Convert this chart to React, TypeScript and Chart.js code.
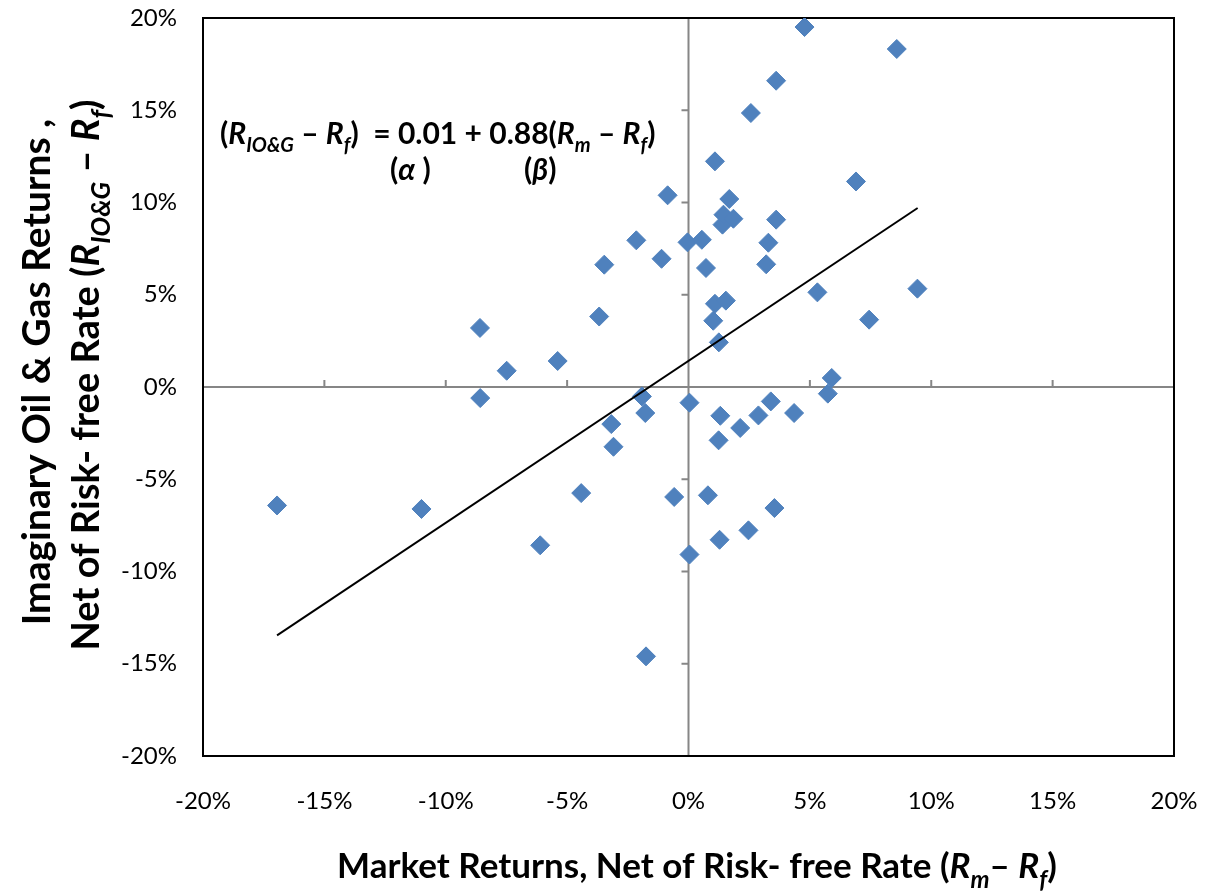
import React, { useEffect, useRef } from "react";
import { Chart, registerables } from "chart.js";

Chart.register(...registerables);

// Market excess returns (%), x values
const marketX: number[] = [
  -16.95, -11.0, -8.59, -8.58, -7.49, -5.39, -6.11, -4.42, -3.68, -3.47,
  -3.18, -3.09, -2.15, -1.92, -1.78, -1.75, -1.11, -0.86, -0.59, -0.04,
  0.55, 0.04, 0.04, 0.72, 0.8, 1.02, 1.09, 1.09, 1.25, 1.31,
  1.24, 1.28, 1.54, 1.4, 1.44, 1.85, 1.68, 2.13, 2.47, 2.57,
  2.88, 3.2, 3.29, 3.39, 3.54, 3.61, 3.61, 4.35, 4.78, 5.31,
  5.74, 5.9, 6.9, 7.44, 8.58, 9.43,
];
// Imaginary Oil & Gas excess returns (%), y values
const iogY: number[] = [
  -6.42, -6.61, 3.2, -0.6, 0.88, 1.41, -8.58, -5.75, 3.82, 6.63,
  -2.01, -3.24, 7.95, -0.51, -1.41, -14.6, 6.95, 10.39, -5.96, 7.84,
  7.98, -0.85, -9.08, 6.45, -5.87, 3.59, 4.51, 12.23, 2.42, -1.56,
  -2.89, -8.28, 4.68, 8.8, 9.34, 9.12, 10.19, -2.22, -7.77, 14.85,
  -1.54, 6.65, 7.82, -0.78, -6.56, 9.07, 16.6, -1.41, 19.51, 5.13,
  -0.36, 0.49, 11.14, 3.65, 18.32, 5.33,
];
// Regression line end points (%)
const trendX: number[] = [-16.95, 9.44];
const trendY: number[] = [-13.46, 9.7];

const axisMin = -20;
const axisMax = 20;
const axisStep = 5;

const FONT = "Lato, 'Liberation Sans', sans-serif";

type Seg = { t: string; i?: boolean; s?: boolean };

function drawRich(
  ctx: CanvasRenderingContext2D,
  segs: Seg[],
  x: number,
  y: number,
  size: number,
  align: "left" | "center"
) {
  const fontFor = (sg: Seg) =>
    `${sg.i ? "italic " : ""}bold ${sg.s ? Math.round(size * 0.68) : size}px ${FONT}`;
  let total = 0;
  const widths: number[] = [];
  for (const sg of segs) {
    ctx.font = fontFor(sg);
    const w = ctx.measureText(sg.t).width;
    widths.push(w);
    total += w;
  }
  let cx = align === "center" ? x - total / 2 : x;
  ctx.textAlign = "left";
  ctx.textBaseline = "alphabetic";
  segs.forEach((sg, k) => {
    ctx.font = fontFor(sg);
    ctx.fillText(sg.t, cx, y + (sg.s ? size * 0.28 : 0));
    cx += widths[k];
  });
}

const yTitle1: Seg[] = [{ t: "Imaginary Oil & Gas Returns ," }];
const yTitle2: Seg[] = [
  { t: "Net of Risk- free Rate (" },
  { t: "R", i: true },
  { t: "IO&G", i: true, s: true },
  { t: " \u2013 " },
  { t: "R", i: true },
  { t: "f", i: true, s: true },
  { t: ")" },
];
const xTitle: Seg[] = [
  { t: "Market Returns, Net of Risk- free Rate (" },
  { t: "R", i: true },
  { t: "m", i: true, s: true },
  { t: "\u2013 " },
  { t: "R", i: true },
  { t: "f", i: true, s: true },
  { t: ")" },
];
const eqLine1: Seg[] = [
  { t: "(" },
  { t: "R", i: true },
  { t: "IO&G", i: true, s: true },
  { t: " \u2013 " },
  { t: "R", i: true },
  { t: "f", i: true, s: true },
  { t: ")  = 0.01 + 0.88(" },
  { t: "R", i: true },
  { t: "m", i: true, s: true },
  { t: " \u2013 " },
  { t: "R", i: true },
  { t: "f", i: true, s: true },
  { t: ")" },
];
const eqAlpha: Seg[] = [{ t: "(" }, { t: "\u03b1", i: true }, { t: " )" }];
const eqBeta: Seg[] = [{ t: "(" }, { t: "\u03b2", i: true }, { t: ")" }];

const framePlugin = {
  id: "frame",
  beforeDatasetsDraw(chart: any) {
    const { ctx, chartArea: a, scales } = chart;
    const xs = scales.x;
    const ys = scales.y;
    const x0 = xs.getPixelForValue(0);
    const y0 = ys.getPixelForValue(0);
    ctx.save();
    ctx.strokeStyle = "#868686";
    ctx.lineWidth = 2;
    ctx.beginPath();
    ctx.moveTo(a.left, y0);
    ctx.lineTo(a.right, y0);
    ctx.moveTo(x0, a.top);
    ctx.lineTo(x0, a.bottom);
    for (let v = axisMin; v <= axisMax; v += axisStep) {
      const px = xs.getPixelForValue(v);
      ctx.moveTo(px, y0);
      ctx.lineTo(px, y0 - 7);
      const py = ys.getPixelForValue(v);
      ctx.moveTo(x0, py);
      ctx.lineTo(x0 - 7, py);
    }
    ctx.stroke();
    ctx.strokeStyle = "#000";
    ctx.lineWidth = 2;
    ctx.strokeRect(a.left, a.top, a.right - a.left, a.bottom - a.top);
    ctx.restore();
  },
  afterDraw(chart: any) {
    const { ctx } = chart;
    ctx.save();
    ctx.fillStyle = "#000";
    drawRich(ctx, xTitle, 697, 878, 35, "center");
    ctx.save();
    ctx.translate(36, 372);
    ctx.rotate(-Math.PI / 2);
    drawRich(ctx, yTitle1, 0, 14, 39, "center");
    ctx.restore();
    ctx.save();
    ctx.translate(85, 375);
    ctx.rotate(-Math.PI / 2);
    drawRich(ctx, yTitle2, 0, 14, 38, "center");
    ctx.restore();
    drawRich(ctx, eqLine1, 220, 144, 30, "left");
    drawRich(ctx, eqAlpha, 390, 180, 30, "left");
    drawRich(ctx, eqBeta, 524, 180, 30, "left");
    ctx.restore();
  },
};

export default function App() {
  const ref = useRef<HTMLCanvasElement | null>(null);
  useEffect(() => {
    if (!ref.current) return;
    const points = marketX.map((x, k) => ({ x, y: iogY[k] }));
    const line = trendX.map((x, k) => ({ x, y: trendY[k] }));
    const chart = new Chart(ref.current, {
      type: "scatter",
      data: {
        datasets: [
          {
            type: "line",
            label: "Trend",
            data: line,
            borderColor: "#000",
            borderWidth: 2,
            pointRadius: 0,
            showLine: true,
            fill: false,
            order: 0,
          } as any,
          {
            label: "Returns",
            data: points,
            pointStyle: "rectRot",
            pointRadius: 9.5,
            pointHoverRadius: 9.5,
            backgroundColor: "#4F81BD",
            borderColor: "#4F81BD",
            borderWidth: 1,
            order: 1,
          },
        ],
      },
      options: {
        responsive: false,
        animation: false,
        layout: { padding: { top: 18, right: 35, left: 0, bottom: 0 } },
        plugins: {
          legend: { display: false },
          tooltip: { enabled: false },
        },
        scales: {
          x: {
            type: "linear",
            min: axisMin,
            max: axisMax,
            grid: { display: false, drawTicks: false },
            border: { display: false },
            ticks: {
              stepSize: axisStep,
              padding: 31,
              color: "#000",
              font: { family: FONT, size: 24 },
              callback: (v: any) => `${v}%`,
            },
            afterFit: (s: any) => {
              s.height = 138;
              s.paddingLeft = 0;
              s.paddingRight = 0;
            },
          },
          y: {
            type: "linear",
            min: axisMin,
            max: axisMax,
            grid: { display: false, drawTicks: false },
            border: { display: false },
            ticks: {
              stepSize: axisStep,
              padding: 26,
              color: "#000",
              font: { family: FONT, size: 24 },
              callback: (v: any) => `${v}%`,
            },
            afterFit: (s: any) => {
              s.width = 203;
              s.paddingTop = 0;
              s.paddingBottom = 0;
            },
          },
        },
      },
      plugins: [framePlugin],
    });
    return () => chart.destroy();
  }, []);
  return (
    <div style={{ position: "fixed", left: 0, top: 0, width: 1209, height: 894, background: "#fff" }}>
      <canvas ref={ref} width={1209} height={894} style={{ display: "block" }} />
    </div>
  );
}
